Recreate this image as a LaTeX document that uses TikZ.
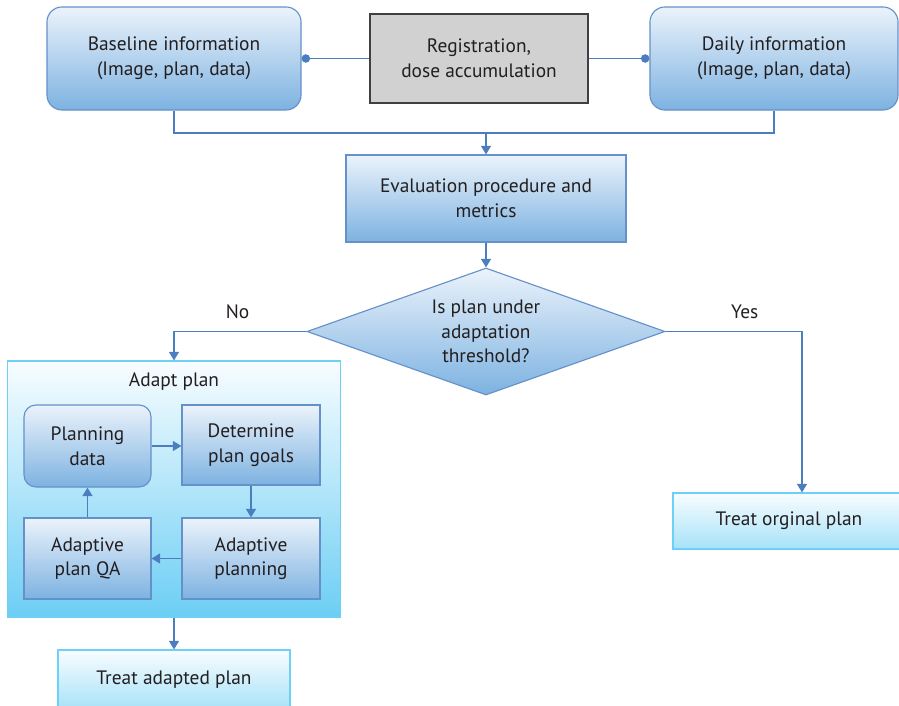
\documentclass[tikz,border=0pt]{standalone}
\usepackage{fontspec}
\setmainfont{PT Sans}
\usetikzlibrary{arrows.meta,shapes.geometric}
\definecolor{lineblue}{HTML}{4A7EBF}
\definecolor{boxtop}{HTML}{EBF3FB}
\definecolor{boxbot}{HTML}{7DB2E1}
\definecolor{cyantop}{HTML}{F8FDFF}
\definecolor{cyanbot}{HTML}{6CCEF4}
\definecolor{cyanline}{HTML}{6DD0F6}
\definecolor{txt}{HTML}{231F20}

\begin{document}
\begin{tikzpicture}[x=0.025cm,y=0.025cm,
  font=\fontsize{13.8}{17.5}\selectfont,text=txt,
  box/.style={draw=lineblue!85,line width=0.8pt,top color=boxtop,bottom color=boxbot,
              align=center,inner sep=0pt},
  cbox/.style={draw=cyanline,line width=0.8pt,top color=cyantop,bottom color=cyanbot!60,
               align=center,inner sep=0pt,minimum width=5.8cm},
  arr/.style={-{Triangle[width=7pt,length=6pt]},lineblue,line width=1pt},
  line/.style={lineblue,line width=1pt},
  lbl/.style={text=txt,above=5pt}]
  \useasboundingbox (0,0) rectangle (899,705);
  % top row
  \node[box,rounded corners=0.375cm,minimum width=6.35cm,minimum height=2.575cm] (base) at (174,646.5)
    {Baseline information\\(Image, plan, data)};
  \node[draw=black!75,line width=0.8pt,fill=black!18,align=center,inner sep=0pt,
        minimum width=5.45cm,minimum height=2.225cm] (reg) at (479,646.5)
    {Registration,\\dose accumulation};
  \node[box,rounded corners=0.375cm,minimum width=6.2cm,minimum height=2.575cm] (daily) at (774,646.5)
    {Daily information\\(Image, plan, data)};
  \draw[line,{Circle[length=6pt]}-] (base.east) -- (reg.west);
  \draw[line,-{Circle[length=6pt]}] (reg.east) -- (daily.west);
  % evaluation and decision
  \node[box,minimum width=7cm,minimum height=2.175cm] (eval) at (486,506.5)
    {Evaluation procedure and\\metrics};
  \coordinate (join) at (486,572);
  \draw[line] (base.south) |- (join) -| (daily.south);
  \draw[arr] (join) -- (eval.north);
  \node[box,diamond,aspect=2.8,minimum width=8.95cm,minimum height=3.175cm] (dec) at (486,373.5)
    {Is plan under\\adaptation\\threshold?};
  \draw[arr] (eval.south) -- (dec.north);
  % adapt plan loop
  \node[draw=cyanline,line width=0.8pt,top color=cyantop,bottom color=cyanbot,
        minimum width=8.325cm,minimum height=6.4cm] (adapt) at (174,216) {};
  \node (adapttitle) at (174,323) {Adapt plan};
  \node[box,rounded corners=0.3cm,minimum width=3.175cm,minimum height=2.05cm] (pd) at (87.5,259)
    {Planning\\data};
  \node[box,minimum width=3.45cm,minimum height=2cm] (dg) at (251,260)
    {Determine\\plan goals};
  \node[box,minimum width=3.45cm,minimum height=2.025cm] (ap) at (251,146.5)
    {Adaptive\\planning};
  \node[box,minimum width=3.175cm,minimum height=2.025cm] (qa) at (87.5,146.5)
    {Adaptive\\plan QA};
  \draw[arr] (pd.east) -- (pd.east -| dg.west);
  \draw[arr] (dg.south) -- (ap.north);
  \draw[arr] (ap.west) -- (qa.east);
  \draw[arr] (qa.north) -- (pd.south);
  \draw[arr] (dec.west) -| node[lbl,pos=0.26]{No} (adapt.north);
  % outcomes
  \node[cbox,minimum height=1.5cm] (tap) at (174,25) {Treat adapted plan};
  \node[cbox,minimum height=1.4cm] (tro) at (789,184) {Treat orginal plan};
  \draw[arr] (adapt.south) -- (tap.north);
  \draw[arr] (dec.east) -| node[lbl,pos=0.29]{Yes} ([xshift=0.325cm]tro.north);
\end{tikzpicture}
\end{document}
